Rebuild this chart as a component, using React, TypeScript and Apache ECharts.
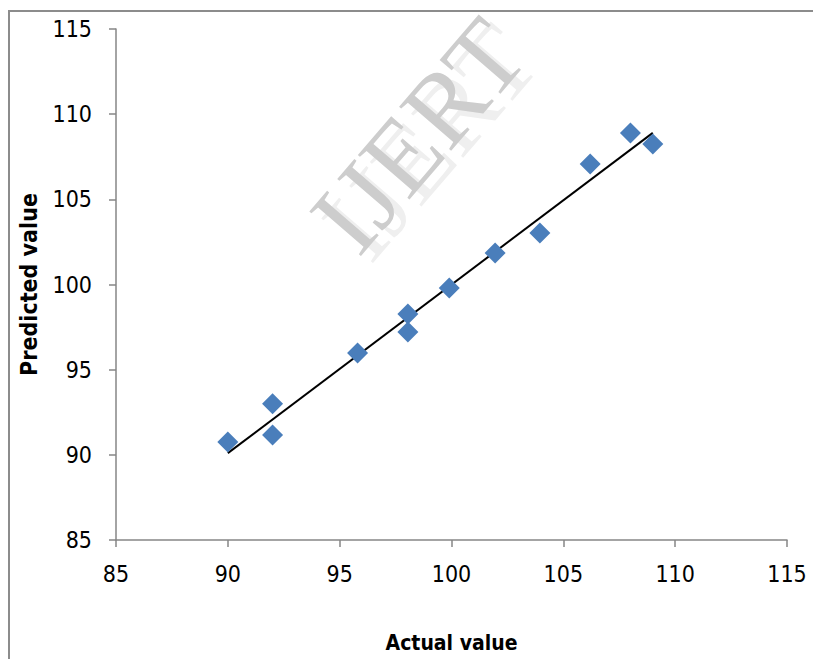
import React, { useEffect, useRef } from "react";
import * as echarts from "echarts";

const actual = [90.0, 92.0, 92.0, 95.8, 98.05, 98.05, 99.9, 101.95, 103.95, 106.2, 108.0, 109.0];
const predicted = [90.75, 93.0, 91.17, 95.98, 98.27, 97.21, 99.8, 101.85, 103.03, 107.08, 108.9, 108.25];
const trendX = [90.0, 109.0];
const trendY = [90.1, 108.9];
const xTitle = "Actual value";
const yTitle = "Predicted value";
const watermark = "IJERT";

const FONT = "'Liberation Sans Narrow', 'DejaVu Sans Condensed', 'Liberation Sans', sans-serif";
const WM_FONT = "104px 'Liberation Serif', 'DejaVu Serif', serif";

export default function App() {
  const ref = useRef<HTMLDivElement>(null);
  useEffect(() => {
    document.body.style.margin = "0";
    const chart = echarts.init(ref.current!, undefined, { renderer: "svg" });
    const axisColor = "#868686";
    chart.setOption({
      animation: false,
      backgroundColor: "#ffffff",
      grid: { left: 116, right: 26, top: 29, bottom: 119, containLabel: false },
      xAxis: {
        type: "value",
        min: 85,
        max: 115,
        interval: 5,
        name: xTitle,
        nameLocation: "middle",
        nameGap: 92,
        nameTextStyle: { fontFamily: FONT, fontWeight: "bold", fontSize: 21, color: "#000" },
        axisLine: { show: true, lineStyle: { color: axisColor, width: 1.5 } },
        axisTick: { show: true, inside: false, length: 7, lineStyle: { color: axisColor, width: 1.5 } },
        axisLabel: { fontFamily: FONT, fontSize: 23, color: "#000", margin: 22 },
        splitLine: { show: false },
      },
      yAxis: {
        type: "value",
        min: 85,
        max: 115,
        interval: 5,
        name: yTitle,
        nameLocation: "middle",
        nameGap: 76,
        nameRotate: 90,
        nameTextStyle: { fontFamily: FONT, fontWeight: "bold", fontSize: 23, color: "#000" },
        axisLine: { show: true, lineStyle: { color: axisColor, width: 1.5 } },
        axisTick: { show: true, inside: false, length: 7, lineStyle: { color: axisColor, width: 1.5 } },
        axisLabel: { fontFamily: FONT, fontSize: 23, color: "#000", margin: 24 },
        splitLine: { show: false },
      },
      graphic: [
        {
          type: "rect",
          shape: { x: 9, y: 11, width: 900, height: 800 },
          style: { fill: "none", stroke: "#8c8c8c", lineWidth: 2 },
          z: -10,
          silent: true,
        },
        {
          type: "text",
          x: 430,
          y: 142,
          rotation: 0.86,
          z: -5,
          style: {
            text: watermark,
            font: WM_FONT,
            lineHeight: 70,
            fill: "#efefef",
            align: "center",
            verticalAlign: "middle",
          },
          silent: true,
        },
        {
          type: "text",
          x: 418,
          y: 135,
          rotation: 0.86,
          z: -4,
          style: {
            text: watermark,
            font: WM_FONT,
            lineHeight: 70,
            fill: "#cdcdcd",
            align: "center",
            verticalAlign: "middle",
          },
          silent: true,
        },
      ],
      series: [
        {
          type: "line",
          data: trendX.map((x, i) => [x, trendY[i]]),
          symbol: "none",
          lineStyle: { color: "#000", width: 2 },
          z: 2,
        },
        {
          type: "scatter",
          data: actual.map((x, i) => [x, predicted[i]]),
          symbol: "diamond",
          symbolSize: [21, 21],
          itemStyle: { color: "#4a7ebb", opacity: 1 },
          z: 3,
        },
      ],
    });
    return () => chart.dispose();
  }, []);
  return <div ref={ref} style={{ width: 813, height: 659 }} />;
}
